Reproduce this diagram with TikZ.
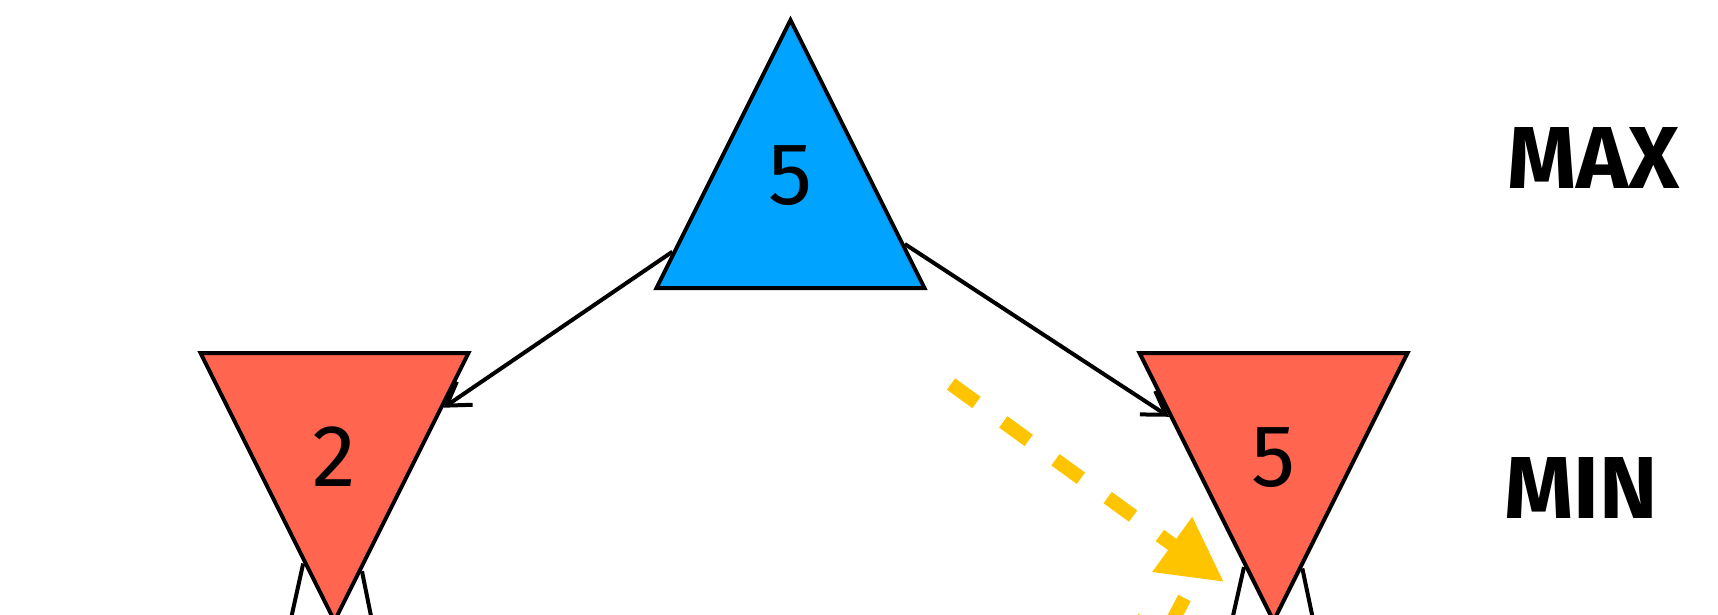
\documentclass[tikz,border=0pt]{standalone}
\usepackage{fontspec}
\setmainfont{Fira Sans}
\usetikzlibrary{shapes.geometric,arrows.meta,calc}
\definecolor{maxblue}{HTML}{00A3FF}
\definecolor{minred}{HTML}{FF654F}
\definecolor{hintyellow}{HTML}{FFC400}

\begin{document}
\begin{tikzpicture}[
    x=1pt, y=-1pt,
    tri/.style={isosceles triangle, isosceles triangle stretches, draw, line width=4pt,
        minimum width=268pt, minimum height=268pt, inner sep=0pt, font=\fontsize{88}{88}\selectfont},
    maxnode/.style={tri, shape border rotate=90, fill=maxblue},
    minnode/.style={tri, shape border rotate=270, fill=minred},
    arr/.style={-{Straight Barb[length=22pt,width=28pt]}, line width=4pt},
    hint/.style={hintyellow, line width=14pt, dash pattern=on 31.5pt off 33pt, -{Triangle[length=64pt,width=64pt]}},
    level/.style={font=\fontsize{88}{88}\selectfont\bfseries, anchor=base}
]
\path[use as bounding box, clip] (0,0) rectangle (1718,615);

\node[maxnode, anchor=lower side] (root) at (790.5,290) {\smash{\raisebox{14.7pt}{5}}};
\node[minnode, anchor=lower side] (minL) at (334.5,351) {\smash{\raisebox{-64.5pt}{2}}};
\node[minnode, anchor=lower side] (minR) at (1273.5,351) {\smash{\raisebox{-64.5pt}{5}}};

\draw[arr] ($(root.apex)!0.861!(root.left corner)$) -- ($(minL.left corner)!0.206!(minL.apex)$);
\draw[arr] ($(root.apex)!0.833!(root.right corner)$) -- ($(minR.right corner)!0.239!(minR.apex)$);

% edges to the next level, cut off by the frame
\coordinate (gLa) at (273,700);
\coordinate (gLb) at (388,700);
\coordinate (gRa) at (1214,700);
\coordinate (gRb) at (1330,700);
\draw[arr] ($(minL.right corner)!0.772!(minL.apex)$) -- (gLa);
\draw[arr] ($(minL.left corner)!0.8!(minL.apex)$) -- (gLb);
\draw[arr] ($(minR.right corner)!0.785!(minR.apex)$) -- (gRa);
\draw[arr] ($(minR.left corner)!0.79!(minR.apex)$) -- (gRb);

% pruning hint
\coordinate (hintA) at (951,384);
\coordinate (hintB) at (1224,582);
\coordinate (hintC) at (1184.5,598);
\coordinate (hintD) at (1138,686);
\draw[hint] (hintA) -- (hintB);
\draw[hint] (hintC) -- (hintD);

\node[level] (maxlbl) at (1593.5,188) {MAX};
\node[level] (minlbl) at (1581,518) {MIN};
\end{tikzpicture}
\end{document}
